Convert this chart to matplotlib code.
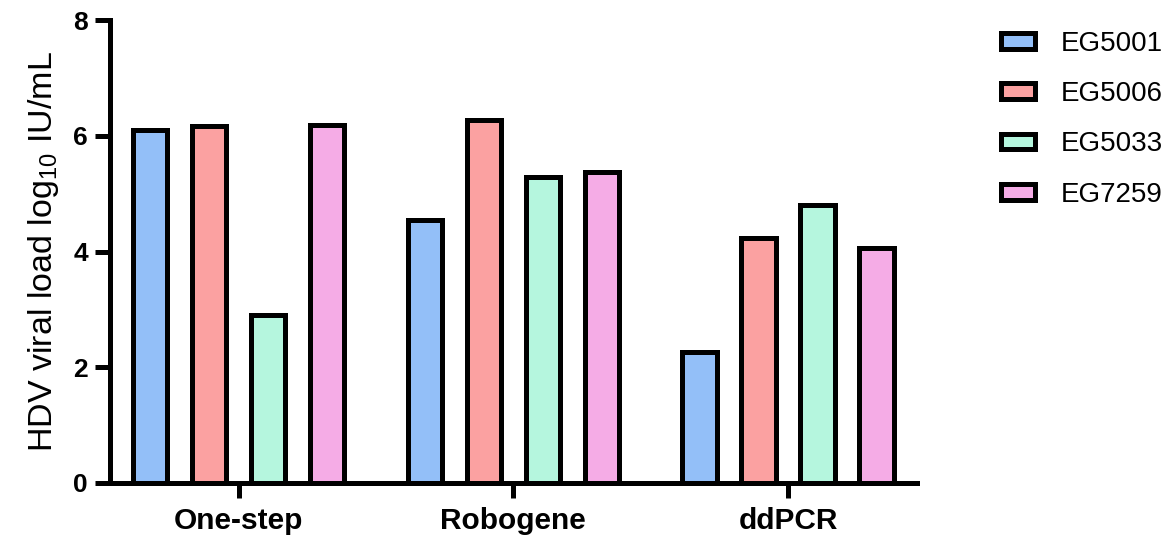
import numpy as np
import matplotlib
matplotlib.use("Agg")
import matplotlib.pyplot as plt

plt.rcParams['font.family'] = ['Liberation Sans', 'DejaVu Sans']
plt.rcParams['mathtext.fontset'] = 'custom'
plt.rcParams['mathtext.rm'] = 'Liberation Sans'
plt.rcParams['mathtext.it'] = 'Liberation Sans:italic'
plt.rcParams['mathtext.bf'] = 'Liberation Sans:bold'
plt.rcParams['mathtext.default'] = 'regular'

categories = ["One-step", "Robogene", "ddPCR"]
series_names = ["EG5001", "EG5006", "EG5033", "EG7259"]
eg5001 = [6.10, 4.55, 2.26]
eg5006 = [6.16, 6.28, 4.23]
eg5033 = [2.90, 5.28, 4.80]
eg7259 = [6.19, 5.37, 4.06]
series_values = [eg5001, eg5006, eg5033, eg7259]
colors = ["#93BFF8", "#FBA1A1", "#B5F6DE", "#F5ACE6"]
y_ticks = [0, 2, 4, 6, 8]

fig = plt.figure(figsize=(11.74, 5.44), dpi=100)
ax = fig.add_axes([110/1174, 1-483/544, (917-110)/1174, (483-20)/544])

lw = 3.6
x = np.arange(len(categories))
spacing = 0.2147
width = 0.124
for i, (name, vals, col) in enumerate(zip(series_names, series_values, colors)):
    off = (i - 1.5) * spacing
    ax.bar(x + off, vals, width=width, color=col, edgecolor="black",
           linewidth=lw, label=name, zorder=3)

ax.set_xlim(-0.4677, 2.4695)
ax.set_ylim(0, 8)
ax.set_yticks(y_ticks)
ax.set_yticklabels([str(t) for t in y_ticks], fontsize=19, fontweight="bold")
ax.set_xticks(x)
ax.set_xticklabels(categories, fontsize=21.5, fontweight="bold")
ax.tick_params(axis="both", length=11, width=lw, direction="out", color="black")
ax.tick_params(axis="y", pad=5)
ax.tick_params(axis="x", pad=6)
for s in ["top", "right"]:
    ax.spines[s].set_visible(False)
for s in ["left", "bottom"]:
    ax.spines[s].set_linewidth(lw)
    ax.spines[s].set_capstyle("projecting")

ax.set_ylabel("HDV viral load log$_{10}$ IU/mL", fontsize=24.5, labelpad=9)

handles, labels = ax.get_legend_handles_labels()
fig.legend(handles, labels, loc="upper left",
           bbox_to_anchor=(1001/1174, 1-31/544), frameon=False,
           fontsize=20, handlelength=1.22, handleheight=0.5,
           handletextpad=0.93, labelspacing=0.87, borderpad=0,
           borderaxespad=0)

fig.savefig("out.png", dpi=100)
